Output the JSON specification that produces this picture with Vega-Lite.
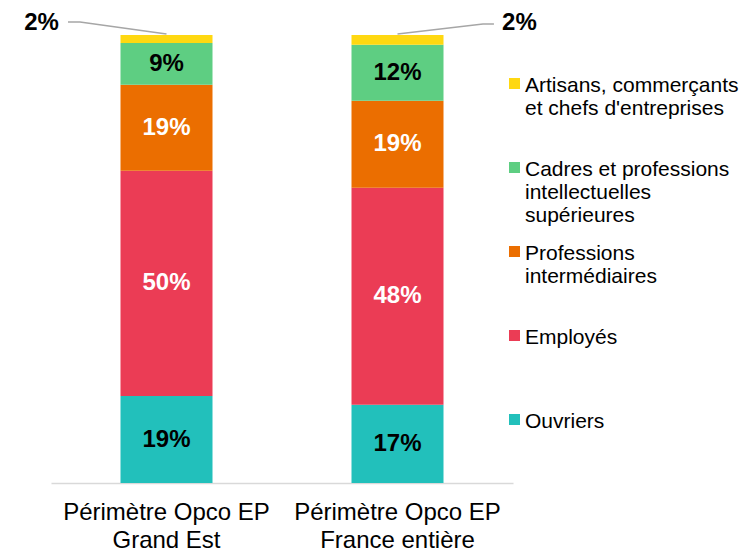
{
  "$schema": "https://vega.github.io/schema/vega-lite/v6.json",
  "width": 462,
  "height": 448,
  "autosize": {"type": "none"},
  "padding": {"left": 51, "top": 35, "right": 232, "bottom": 67},
  "background": "white",
  "config": {
    "view": {"stroke": null},
    "font": "Liberation Sans"
  },
  "datasets": {
    "main": [
      {"cat": "Périmètre Opco EP Grand Est", "csp": "Ouvriers", "share": 0.194, "ord": 1},
      {"cat": "Périmètre Opco EP Grand Est", "csp": "Employés", "share": 0.503, "ord": 2},
      {"cat": "Périmètre Opco EP Grand Est", "csp": "Professions intermédiaires", "share": 0.192, "ord": 3},
      {"cat": "Périmètre Opco EP Grand Est", "csp": "Cadres et professions intellectuelles supérieures", "share": 0.093, "ord": 4},
      {"cat": "Périmètre Opco EP Grand Est", "csp": "Artisans, commerçants et chefs d'entreprises", "share": 0.018, "ord": 5},
      {"cat": "Périmètre Opco EP France entière", "csp": "Ouvriers", "share": 0.1745, "ord": 1},
      {"cat": "Périmètre Opco EP France entière", "csp": "Employés", "share": 0.4845, "ord": 2},
      {"cat": "Périmètre Opco EP France entière", "csp": "Professions intermédiaires", "share": 0.1944, "ord": 3},
      {"cat": "Périmètre Opco EP France entière", "csp": "Cadres et professions intellectuelles supérieures", "share": 0.1246, "ord": 4},
      {"cat": "Périmètre Opco EP France entière", "csp": "Artisans, commerçants et chefs d'entreprises", "share": 0.022, "ord": 5}
    ],
    "leaders": [
      {"cat": "Périmètre Opco EP Grand Est", "k": 1, "off": 0.0, "share": 1.002},
      {"cat": "Périmètre Opco EP Grand Est", "k": 2, "off": -0.749, "share": 1.029},
      {"cat": "Périmètre Opco EP Grand Est", "k": 3, "off": -0.853, "share": 1.029},
      {"cat": "Périmètre Opco EP France entière", "k": 1, "off": 0.0, "share": 1.002},
      {"cat": "Périmètre Opco EP France entière", "k": 2, "off": 0.74, "share": 1.0246},
      {"cat": "Périmètre Opco EP France entière", "k": 3, "off": 0.835, "share": 1.0246}
    ],
    "outside": [
      {"cat": "Périmètre Opco EP Grand Est", "off": -1.082, "share": 1.0275, "label": "2%"},
      {"cat": "Périmètre Opco EP France entière", "off": 1.056, "share": 1.027, "label": "2%"}
    ]
  },
  "encoding": {
    "x": {
      "field": "cat",
      "type": "nominal",
      "sort": ["Périmètre Opco EP Grand Est", "Périmètre Opco EP France entière"],
      "scale": {"paddingInner": 0, "paddingOuter": 0},
      "axis": {
        "title": null,
        "labelAngle": 0,
        "ticks": false,
        "grid": false,
        "domainColor": "#d9d9d9",
        "domainWidth": 1.5,
        "labelFont": "Liberation Sans",
        "labelFontSize": 24,
        "labelColor": "#000000",
        "labelLineHeight": 28,
        "labelBaseline": "top",
        "labelPadding": 17,
        "labelLimit": 300,
        "labelExpr": "[slice(datum.label,0,17), slice(datum.label,18)]"
      }
    }
  },
  "layer": [
    {
      "data": {"name": "main"},
      "transform": [
        {"stack": "share", "groupby": ["cat"], "sort": [{"field": "ord", "order": "ascending"}], "as": ["y0", "y1"]}
      ],
      "mark": {"type": "bar", "size": 92},
      "encoding": {
        "y": {"field": "y0", "type": "quantitative", "scale": {"domain": [0, 1], "nice": false, "zero": true}, "axis": null},
        "y2": {"field": "y1"},
        "color": {
          "field": "csp",
          "type": "nominal",
          "scale": {
            "domain": [
              "Artisans, commerçants et chefs d'entreprises",
              "Cadres et professions intellectuelles supérieures",
              "Professions intermédiaires",
              "Employés",
              "Ouvriers"
            ],
            "range": ["#FFD811", "#5ECE82", "#EB6E00", "#EB3C55", "#22C0BB"]
          },
          "legend": {
            "title": null,
            "orient": "none",
            "legendX": 453,
            "legendY": 29,
            "symbolType": "M-1,0.64H1V2.64H-1Z",
            "symbolSize": 121,
            "symbolStrokeWidth": 0,
            "labelFont": "Liberation Sans",
            "labelFontSize": 21,
            "labelColor": "#000000",
            "labelLineHeight": 25,
            "labelBaseline": "top",
            "labelOffset": 0,
            "labelLimit": 400,
            "rowPadding": 6,
            "labelExpr": "indexof(datum.label,'Artisans')==0 ? ['Artisans, commerçants', \"et chefs d'entreprises\", ''] : indexof(datum.label,'Cadres')==0 ? ['Cadres et professions','intellectuelles','supérieures'] : indexof(datum.label,'Professions')==0 ? ['Professions','intermédiaires',''] : [datum.label,'','']"
          }
        },
        "order": {"field": "ord", "type": "quantitative"}
      }
    },
    {
      "data": {"name": "main"},
      "transform": [
        {"stack": "share", "groupby": ["cat"], "sort": [{"field": "ord", "order": "ascending"}], "as": ["y0", "y1"]},
        {"calculate": "(datum.y0 + datum.y1) / 2", "as": "mid"},
        {"filter": "datum.share > 0.03"}
      ],
      "mark": {"type": "text", "font": "Liberation Sans", "fontSize": 24, "fontWeight": "bold", "baseline": "middle", "align": "center"},
      "encoding": {
        "y": {"field": "mid", "type": "quantitative", "axis": null},
        "text": {"field": "share", "type": "quantitative", "format": ".0%"},
        "color": {
          "condition": {"test": "datum.csp == 'Employés' || datum.csp == 'Professions intermédiaires'", "value": "#ffffff"},
          "value": "#000000"
        }
      }
    },
    {
      "data": {"name": "leaders"},
      "mark": {"type": "line", "color": "#A6A6A6", "strokeWidth": 1.5},
      "encoding": {
        "xOffset": {"field": "off", "type": "quantitative", "scale": {"domain": [-1, 1], "nice": false, "zero": false}},
        "y": {"field": "share", "type": "quantitative", "axis": null},
        "detail": {"field": "cat"},
        "order": {"field": "k", "type": "quantitative"}
      }
    },
    {
      "data": {"name": "outside"},
      "mark": {"type": "text", "font": "Liberation Sans", "fontSize": 24, "fontWeight": "bold", "baseline": "middle", "align": "center", "color": "#000000"},
      "encoding": {
        "xOffset": {"field": "off", "type": "quantitative", "scale": {"domain": [-1, 1], "nice": false, "zero": false}},
        "y": {"field": "share", "type": "quantitative", "axis": null},
        "text": {"field": "label"}
      }
    }
  ]
}
